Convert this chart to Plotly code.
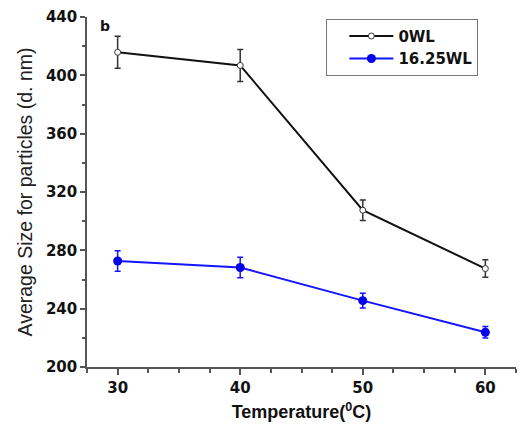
import plotly.graph_objects as go

temps = [30, 40, 50, 60]
size_0wl = [415.8, 406.8, 307.5, 267.5]
err_0wl = [11, 11, 7, 6]
size_1625wl = [272.7, 268.2, 245.5, 223.8]
err_1625wl = [7, 7, 5, 4]
series_names = ["0WL", "16.25WL"]
y_ticks = [200, 240, 280, 320, 360, 400, 440]

fig = go.Figure()
fig.add_trace(go.Scatter(
    x=temps, y=size_0wl, name=series_names[0], mode="lines+markers",
    line=dict(color="#111111", width=2),
    marker=dict(symbol="circle", size=6, color="white", line=dict(color="#333333", width=1)),
    error_y=dict(type="data", array=err_0wl, visible=True, color="#333333", thickness=1.5, width=3),
))
fig.add_trace(go.Scatter(
    x=temps, y=size_1625wl, name=series_names[1], mode="lines+markers",
    line=dict(color="#1414ff", width=2),
    marker=dict(symbol="circle", size=9, color="#0000ee"),
    error_y=dict(type="data", array=err_1625wl, visible=True, color="#1414ff", thickness=1.5, width=3),
))

font_tick = dict(family="DejaVu Sans", size=15, color="#111111", weight="bold")
fig.update_layout(
    width=521, height=426,
    margin=dict(l=87, r=4.5, t=17, b=59.3),
    paper_bgcolor="white", plot_bgcolor="white",
    showlegend=True,
    legend=dict(
        x=0.558, y=0.995, xanchor="left", yanchor="top",
        bordercolor="#777777", borderwidth=1, bgcolor="white",
        font=dict(family="DejaVu Sans", size=15, color="#111111", weight="bold"),
        itemwidth=44, indentation=17, tracegroupgap=0,
    ),
    xaxis=dict(
        range=[27.5, 62.5], tickvals=temps, showgrid=False, zeroline=False,
        showline=True, linecolor="#555555", linewidth=1.5,
        ticks="outside", ticklen=6, tickwidth=1.5, tickcolor="#555555",
        minor=dict(dtick=2.5, tick0=27.5, ticks="outside", ticklen=4, tickwidth=1.5, tickcolor="#555555"),
        tickfont=font_tick,
        title=dict(text="Temperature(<sup>0</sup>C)", standoff=10,
                   font=dict(family="Liberation Sans", size=18, color="#111111", weight="bold")),
    ),
    yaxis=dict(
        range=[200, 440], tickvals=y_ticks, showgrid=False, zeroline=False,
        showline=True, linecolor="#555555", linewidth=1.5,
        ticks="outside", ticklen=5, tickwidth=1.5, tickcolor="#555555",
        minor=dict(dtick=20, tick0=200, ticks="outside", ticklen=3, tickwidth=1.5, tickcolor="#555555"),
        tickfont=font_tick,
        title=dict(text="Average Size for particles (d. nm)", standoff=8,
                   font=dict(family="Liberation Sans", size=19.5, color="#222222")),
    ),
    annotations=[dict(text="b", x=0.026, y=0.974, xref="paper", yref="paper", showarrow=False,
                      xanchor="left", yanchor="middle",
                      font=dict(family="DejaVu Sans", size=14, color="#111111", weight="bold"))],
)

fig.write_html("out.html")
